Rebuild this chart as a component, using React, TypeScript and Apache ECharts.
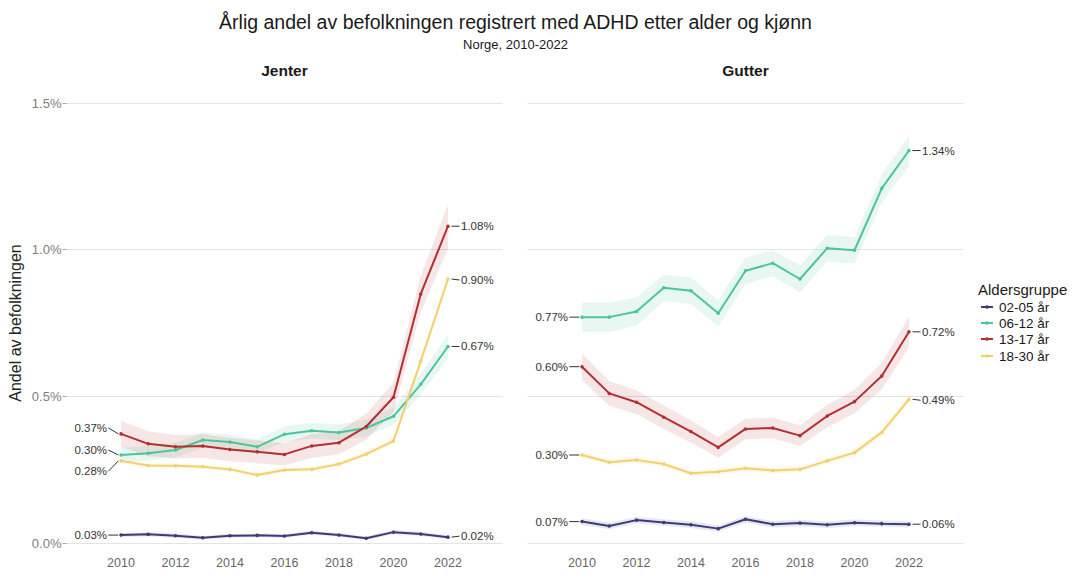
import React, { useEffect, useRef } from "react";
import * as echarts from "echarts";

const years = [2010, 2011, 2012, 2013, 2014, 2015, 2016, 2017, 2018, 2019, 2020, 2021, 2022];
const xTicks = [2010, 2012, 2014, 2016, 2018, 2020, 2022];
const yTicks = [0, 0.5, 1.0, 1.5];
const groups = ["02-05 år", "06-12 år", "13-17 år", "18-30 år"];
const panelNames = ["Jenter", "Gutter"];

// Jenter (girls), % of population
const jenter0205 = [0.027, 0.030, 0.025, 0.018, 0.025, 0.026, 0.024, 0.035, 0.027, 0.016, 0.037, 0.031, 0.020];
const jenter0612 = [0.300, 0.306, 0.317, 0.351, 0.344, 0.328, 0.371, 0.383, 0.377, 0.392, 0.432, 0.541, 0.670];
const jenter1317 = [0.372, 0.338, 0.328, 0.331, 0.319, 0.311, 0.302, 0.331, 0.342, 0.397, 0.497, 0.849, 1.080];
const jenter1830 = [0.280, 0.264, 0.263, 0.260, 0.251, 0.232, 0.249, 0.251, 0.269, 0.303, 0.348, 0.620, 0.900];

// Gutter (boys), % of population
const gutter0205 = [0.073, 0.058, 0.078, 0.070, 0.062, 0.049, 0.081, 0.064, 0.068, 0.062, 0.069, 0.066, 0.064];
const gutter0612 = [0.770, 0.770, 0.789, 0.870, 0.860, 0.783, 0.928, 0.954, 0.900, 1.005, 0.998, 1.209, 1.338];
const gutter1317 = [0.601, 0.510, 0.480, 0.429, 0.380, 0.326, 0.389, 0.392, 0.366, 0.433, 0.482, 0.569, 0.720];
const gutter1830 = [0.300, 0.275, 0.283, 0.269, 0.238, 0.243, 0.255, 0.247, 0.251, 0.280, 0.308, 0.377, 0.490];

// Half-widths of the confidence ribbons (percentage points)
const jenter0205Ci = [0.007, 0.007, 0.007, 0.006, 0.006, 0.006, 0.006, 0.007, 0.006, 0.006, 0.007, 0.007, 0.006];
const jenter0612Ci = [0.025, 0.025, 0.025, 0.026, 0.026, 0.025, 0.027, 0.027, 0.027, 0.028, 0.030, 0.035, 0.040];
const jenter1317Ci = [0.045, 0.042, 0.040, 0.040, 0.040, 0.039, 0.038, 0.040, 0.040, 0.044, 0.050, 0.062, 0.075];
const jenter1830Ci = [0.008, 0.008, 0.008, 0.008, 0.008, 0.008, 0.008, 0.008, 0.008, 0.009, 0.010, 0.013, 0.016];
const gutter0205Ci = [0.011, 0.011, 0.011, 0.011, 0.011, 0.011, 0.011, 0.011, 0.011, 0.011, 0.011, 0.011, 0.011];
const gutter0612Ci = [0.050, 0.050, 0.048, 0.045, 0.045, 0.045, 0.045, 0.045, 0.045, 0.045, 0.045, 0.048, 0.052];
const gutter1317Ci = [0.045, 0.042, 0.040, 0.040, 0.038, 0.035, 0.035, 0.035, 0.035, 0.038, 0.040, 0.045, 0.052];
const gutter1830Ci = [0.010, 0.010, 0.010, 0.010, 0.010, 0.010, 0.010, 0.010, 0.010, 0.010, 0.011, 0.012, 0.014];

const colors = ["#3d3c7a", "#4cc59c", "#b3302f", "#f4d06c"];
const bandFills = [
  "rgba(61,60,122,0.12)",
  "rgba(76,197,156,0.13)",
  "rgba(179,48,47,0.12)",
  "rgba(244,208,108,0.14)",
];

const FONT = "'Liberation Sans', Arial, Helvetica, sans-serif";

// label vertical offsets (layout only)
const leftDy = [
  [0, -5, -6, 10.5],
  [0, 0, 0, 0],
];
const rightDy = [
  [-1, 0, 0, 1],
  [0, 0, 0, 1],
];

export default function App() {
  const ref = useRef<HTMLDivElement>(null);

  useEffect(() => {
    document.body.style.margin = "0";
    const chart = echarts.init(ref.current!, undefined, { renderer: "svg" });

    const panels = [
      { values: [jenter0205, jenter0612, jenter1317, jenter1830], ci: [jenter0205Ci, jenter0612Ci, jenter1317Ci, jenter1830Ci] },
      { values: [gutter0205, gutter0612, gutter1317, gutter1830], ci: [gutter0205Ci, gutter0612Ci, gutter1317Ci, gutter1830Ci] },
    ];

    const series: any[] = [];
    panels.forEach((p, pi) => {
      p.values.forEach((vals, gi) => {
        const lo = vals.map((v, i) => v - p.ci[gi][i]);
        const hi = vals.map((v, i) => v + p.ci[gi][i]);
        series.push({
          type: "custom",
          name: groups[gi] + " (KI)",
          xAxisIndex: pi,
          yAxisIndex: pi,
          silent: true,
          z: 1,
          data: years.map((y, i) => [y, vals[i]]),
          encode: { x: 0, y: 1 },
          renderItem: (params: any, api: any) => {
            if (params.dataIndex !== 0) return null;
            const pts: number[][] = [];
            years.forEach((y, i) => pts.push(api.coord([y, hi[i]])));
            for (let i = years.length - 1; i >= 0; i--) pts.push(api.coord([years[i], lo[i]]));
            return { type: "polygon", shape: { points: pts }, style: { fill: bandFills[gi] } };
          },
        });
        series.push({
          type: "line",
          name: groups[gi],
          xAxisIndex: pi,
          yAxisIndex: pi,
          z: 3,
          data: years.map((y, i) => [y, vals[i]]),
          symbol: "circle",
          symbolSize: 3.5,
          showSymbol: true,
          itemStyle: { color: colors[gi] },
          lineStyle: { color: colors[gi], width: 2 },
          emphasis: { disabled: true },
        });
      });
    });

    const xAxisBase = {
      type: "value",
      min: 2008,
      max: 2024,
      interval: 2,
      axisLine: { show: false },
      axisTick: { show: false },
      splitLine: { show: false },
      axisLabel: {
        color: "#666",
        fontSize: 12.5,
        fontFamily: FONT,
        margin: 13,
        formatter: (v: number) => (xTicks.includes(v) ? String(v) : ""),
      },
    };
    const yAxisBase = {
      type: "value",
      min: yTicks[0],
      max: yTicks[yTicks.length - 1],
      interval: 0.5,
      axisLine: { show: false },
      splitLine: { show: true, lineStyle: { color: "#e4e4e4", width: 1 } },
    };

    chart.setOption({
      animation: false,
      backgroundColor: "#ffffff",
      textStyle: { fontFamily: FONT },
      grid: [
        { left: 66.5, top: 103, width: 436, height: 440 },
        { left: 527.5, top: 103, width: 436, height: 440 },
      ],
      xAxis: [
        { ...xAxisBase, gridIndex: 0 },
        { ...xAxisBase, gridIndex: 1 },
      ],
      yAxis: [
        {
          ...yAxisBase,
          gridIndex: 0,
          name: "Andel av befolkningen",
          nameLocation: "middle",
          nameGap: 43,
          nameTextStyle: { color: "#222", fontSize: 16, fontFamily: FONT },
          axisTick: { show: true, length: 4, lineStyle: { color: "#aaa" } },
          axisLabel: {
            color: "#808080",
            fontSize: 13,
            fontFamily: FONT,
            margin: 5,
            formatter: (v: number) => v.toFixed(1) + "%",
          },
        },
        {
          ...yAxisBase,
          gridIndex: 1,
          axisTick: { show: false },
          axisLabel: { show: false },
        },
      ],
      series,
    });

    const g: any[] = [];
    const txt = (x: number, y: number, text: string, extra: any = {}) => ({
      type: "text",
      x,
      y,
      silent: true,
      style: {
        text,
        fill: "#333",
        fontSize: 11.5,
        fontFamily: FONT,
        verticalAlign: "middle",
        ...extra,
      },
    });
    const seg = (x1: number, y1: number, x2: number, y2: number) => ({
      type: "line",
      silent: true,
      shape: { x1, y1, x2, y2 },
      style: { stroke: "#333", lineWidth: 1 },
    });

    panels.forEach((p, pi) => {
      p.values.forEach((vals, gi) => {
        const first = chart.convertToPixel({ gridIndex: pi }, [years[0], vals[0]]) as number[];
        const last = chart.convertToPixel({ gridIndex: pi }, [years[years.length - 1], vals[vals.length - 1]]) as number[];
        const ly = first[1] + leftDy[pi][gi];
        g.push(seg(first[0] - 12.7, ly, first[0] - 2.7, first[1]));
        g.push(txt(first[0] - 14, ly, vals[0].toFixed(2) + "%", { align: "right" }));
        const ry = last[1] + rightDy[pi][gi];
        g.push(seg(last[0] + 3.5, last[1], last[0] + 11.5, ry));
        g.push(txt(last[0] + 13, ry, vals[vals.length - 1].toFixed(2) + "%", { align: "left" }));
      });
    });

    // titles
    g.push(txt(515.5, 22, "Årlig andel av befolkningen registrert med ADHD etter alder og kjønn", { align: "center", fontSize: 19.5, fill: "#1a1a1a" }));
    g.push(txt(515.5, 44, "Norge, 2010-2022", { align: "center", fontSize: 13, fill: "#1a1a1a" }));
    g.push(txt(284.5, 70, panelNames[0], { align: "center", fontSize: 15.5, fontWeight: "bold", fill: "#1a1a1a" }));
    g.push(txt(745.5, 70, panelNames[1], { align: "center", fontSize: 15.5, fontWeight: "bold", fill: "#1a1a1a" }));

    // legend
    g.push(txt(978, 289, "Aldersgruppe", { align: "left", fontSize: 15, fill: "#1a1a1a" }));
    const legY = [307, 323, 339, 356];
    groups.forEach((name, gi) => {
      const y = legY[gi];
      g.push({ type: "line", silent: true, shape: { x1: 981, y1: y, x2: 993, y2: y }, style: { stroke: colors[gi], lineWidth: 2 } });
      g.push({ type: "circle", silent: true, shape: { cx: 987, cy: y, r: 1.8 }, style: { fill: colors[gi] } });
      g.push(txt(999, y, name, { align: "left", fontSize: 13.5, fill: "#1a1a1a" }));
    });

    chart.setOption({ graphic: g });

    return () => chart.dispose();
  }, []);

  return <div ref={ref} style={{ width: 1077, height: 581 }} />;
}
